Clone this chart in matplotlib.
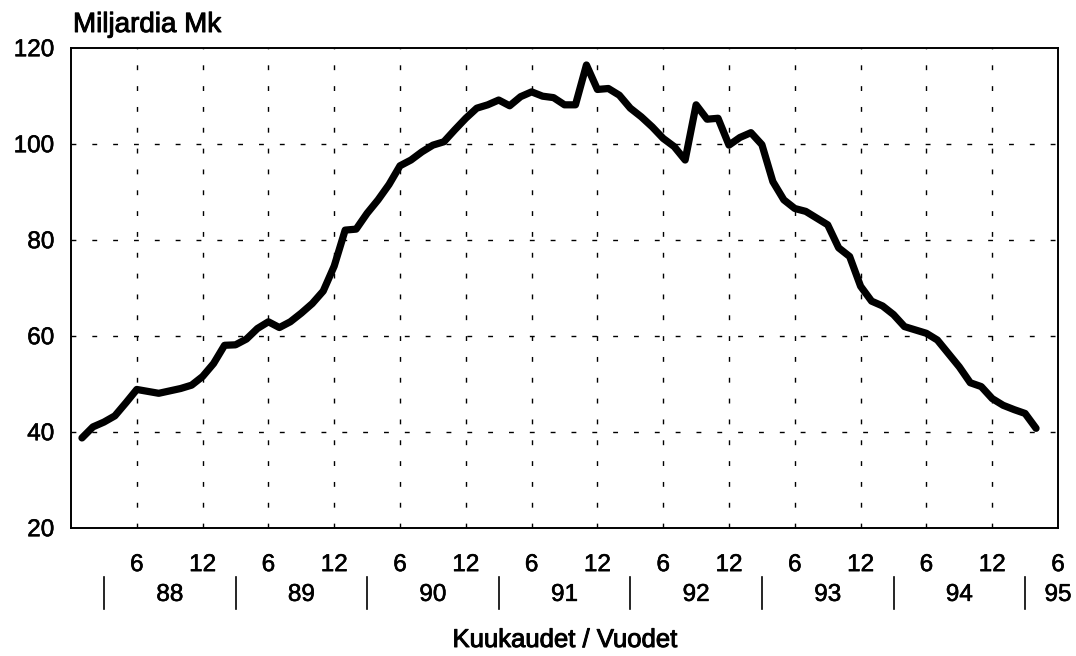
import matplotlib
matplotlib.use('Agg')
import matplotlib.pyplot as plt
import matplotlib.transforms as mtransforms
import matplotlib.patheffects as pe

plt.rcParams['font.family'] = ['Liberation Sans', 'DejaVu Sans']

# monthly values, Jan 1988 .. Apr 1995 (month index 1 = Jan 88)
months = list(range(1, 89))
values = [38.7, 41.0, 42.0, 43.3, 46.0, 48.8, 48.4, 48.0, 48.5, 49.0, 49.7, 51.5,
          54.2, 58.0, 58.1, 59.3, 61.5, 62.9, 61.7, 62.9, 64.7, 66.7, 69.3, 74.5,
          82.0, 82.2, 85.5, 88.3, 91.5, 95.4, 96.6, 98.3, 99.7, 100.4, 102.9, 105.3,
          107.4, 108.1, 109.1, 107.9, 109.8, 110.8, 109.9, 109.6, 108.1, 108.1, 116.4, 111.3,
          111.5, 110.1, 107.4, 105.6, 103.5, 101.1, 99.4, 96.6, 108.1, 105.1, 105.3, 99.7,
          101.3, 102.3, 99.8, 92.1, 88.3, 86.5, 85.9, 84.5, 83.1, 78.3, 76.5, 70.3,
          67.2, 66.2, 64.4, 61.9, 61.2, 60.5, 59.1, 56.3, 53.5, 50.2, 49.4, 46.9,
          45.5, 44.6, 43.8, 40.7]

month_ticks = [6, 12, 18, 24, 30, 36, 42, 48, 54, 60, 66, 72, 78, 84, 90]
month_labels = ['6', '12', '6', '12', '6', '12', '6', '12', '6', '12', '6', '12', '6', '12', '6']
year_pos = [9, 21, 33, 45, 57, 69, 81, 90]
year_labels = ['88', '89', '90', '91', '92', '93', '94', '95']
year_seps = [3, 15, 27, 39, 51, 63, 75, 87]
y_ticks = [20, 40, 60, 80, 100, 120]

heavy = [pe.withStroke(linewidth=0.7, foreground='black')]

fig = plt.figure(figsize=(10.76, 6.56), dpi=100)
ax = fig.add_axes([71/1076, 1-527.7/656, (1058-71)/1076, 480/656])

# dashed grid
for m in month_ticks[:-1]:
    ax.axvline(m, color='black', linewidth=1.0, dashes=(3.5, 11.5), zorder=1)
for v in y_ticks[1:-1]:
    ax.axhline(v, color='black', linewidth=1.0, dashes=(3.5, 11.5), zorder=1)

ax.plot(months, values, color='black', linewidth=5.2, solid_joinstyle='round',
        solid_capstyle='round', zorder=3)

ax.set_xlim(0, 90)
ax.set_ylim(20, 120)
ax.set_xticks(month_ticks)
ax.set_xticklabels(month_labels)
ax.set_yticks(y_ticks)
ax.tick_params(axis='x', length=0, pad=19, labelsize=17.5)
ax.tick_params(axis='y', length=0, pad=12, labelsize=17.5)
for lab in ax.get_xticklabels() + ax.get_yticklabels():
    lab.set_path_effects([pe.withStroke(linewidth=0.4, foreground='black')])
for s in ax.spines.values():
    s.set_linewidth(1.4)

# year row below month labels
trans = mtransforms.blended_transform_factory(ax.transData, ax.transAxes)
for x, lab in zip(year_pos, year_labels):
    ax.text(x, -0.140, lab, transform=trans, ha='center', va='center', fontsize=17.5,
            path_effects=[pe.withStroke(linewidth=0.4, foreground='black')])
for x in year_seps:
    ax.plot([x, x], [-0.102, -0.170], transform=trans, color='black',
            linewidth=1.2, clip_on=False)

fig.text(73/1076, 1-32/656, 'Miljardia Mk', fontsize=20, va='baseline', ha='left',
         path_effects=heavy)
fig.text(565/1076, 1-640/656, 'Kuukaudet / Vuodet', fontsize=18.5, va='center', ha='center',
         path_effects=heavy)

plt.savefig('out.png', dpi=100)
